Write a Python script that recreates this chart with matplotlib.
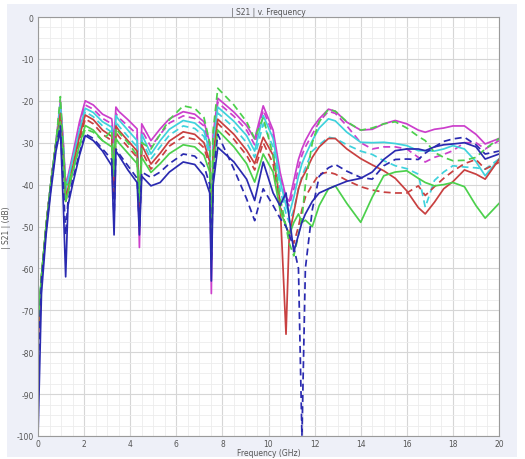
import matplotlib
matplotlib.use("Agg")
import matplotlib.pyplot as plt
from matplotlib.patches import Rectangle
from matplotlib.ticker import MultipleLocator

plt.rcParams['axes.unicode_minus'] = False

# frequency points (GHz) shared by all traces
freq = [0.0, 0.15, 0.35, 0.55, 0.78, 0.97, 1.1, 1.2, 1.3, 1.5, 1.8,
        2.05, 2.4, 2.8, 3.2, 3.3, 3.38, 3.5, 3.9, 4.3, 4.4,
        4.5, 4.9, 5.3, 5.7, 6.3, 6.8, 7.2, 7.45, 7.52, 7.6,
        7.8, 8.5, 9.05, 9.4, 9.77, 10.2, 10.5, 10.76, 10.9, 11.1,
        11.3, 11.45, 11.6, 11.9, 12.2, 12.6, 12.9, 13.4, 14.0, 14.5,
        15.0, 15.5, 16.0, 16.5, 16.8, 17.2, 17.6, 18.0, 18.5, 19.0,
        19.4, 20.0]

magenta_solid = [-76, -62, -50, -40, -30, -20, -30, -40, -38, -33, -25,
                 -20, -21, -23.2, -24.3, -30, -21.5, -22.5, -24.5, -26.7, -55,
                 -25.5, -29.5, -26.7, -24.3, -22.6, -23.2, -25, -30, -66, -28,
                 -19.4, -22.7, -25.9, -29.1, -21.2, -27, -37, -43, -44, -39,
                 -34, -31.5, -29.5, -26.5, -24.3, -22, -22.5, -25.1, -27, -26.8,
                 -25.5, -24.7, -25.5, -27, -27.5, -26.8, -26.5, -26, -26, -28,
                 -30.3, -29]
magenta_dash = [-77, -62, -50, -40, -30, -21, -31, -41, -39, -34, -26,
                -21, -22, -24.2, -25.5, -33, -23, -24, -26, -28, -50,
                -27, -31, -28, -25.3, -23.6, -24.2, -26, -31, -58, -29,
                -20.4, -23.7, -27, -30.5, -22.2, -28, -38, -44, -45, -41,
                -36, -33, -31, -28, -25, -22.5, -23, -26, -30, -31.5,
                -31, -31, -31.5, -33.5, -34.6, -33.5, -32.8, -31.9, -30, -30,
                -31.5, -29.5]
cyan_solid = [-74, -62, -50, -40, -30, -21, -31, -41, -39, -34, -27,
              -21.8, -22.8, -25, -26.3, -42, -23.5, -24.5, -27, -29.5, -48,
              -28, -32.7, -29.5, -26.8, -24.7, -25.3, -27.2, -32, -56, -30,
              -21.5, -24.9, -28.3, -32, -23.5, -29, -39, -45, -47, -43,
              -38, -35, -33, -29.5, -26.5, -24.3, -24.8, -27.5, -29.9, -30,
              -29.9, -30.2, -30.7, -31.9, -31.9, -32, -31.5, -30.7, -31.5, -34.5,
              -37.9, -33.9]
cyan_dash = [-75, -62, -50, -40, -30, -22, -32, -42, -40, -35, -28,
             -22.6, -23.8, -26, -27.5, -44, -25, -26, -28.5, -31, -47,
             -29.5, -33.9, -31, -28.2, -26, -26.6, -28.5, -33, -55, -31.5,
             -22.9, -26.4, -30, -33.5, -25.5, -31, -41, -47, -49, -46,
             -41, -38, -36, -32, -30.5, -28.7, -29, -30.5, -32, -32.8,
             -34.3, -35.5, -36.2, -37.5, -45.4, -39, -37, -35.5, -35.8, -36,
             -36.3, -33.9]
red_solid = [-78, -62, -50, -40, -30, -23, -33, -43, -41, -36, -28.5,
             -23.4, -24.5, -27, -28.5, -40, -26, -27, -29.5, -32, -45,
             -30.5, -35.1, -32.5, -29.6, -27.4, -28, -30, -34.5, -54, -33,
             -24.4, -28, -31.8, -35, -28.7, -33, -44, -75.7, -52, -46.6,
             -41, -38.5, -37, -33.5, -31, -29, -29, -31.5, -33.8, -35.3,
             -36.7, -38.5, -41.5, -45.5, -47, -44.2, -41, -39.3, -36.5, -37.5,
             -38.7, -34]
red_dash = [-77, -62, -50, -40, -30, -24, -34, -44, -42, -37, -29.5,
            -24.3, -25.5, -28, -29.5, -42, -27.5, -28.5, -31, -33.5, -46,
            -32, -36.3, -33.7, -30.8, -28.6, -29.2, -31.2, -35.5, -53, -34,
            -25.4, -29.2, -33, -36.5, -30, -35, -45, -50, -52, -54,
            -50, -46, -43, -40, -37.5, -37, -37.5, -39, -40.5, -41.3,
            -41.8, -42, -42, -40.3, -42.6, -40.5, -38.5, -36.8, -35, -34,
            -36.3, -34.7]
green_solid = [-73, -62, -50, -40, -30, -25, -35, -44, -42, -37, -30.5,
               -25.9, -27, -29.5, -31, -38, -29, -30, -32.5, -35, -44,
               -33.5, -37.1, -35, -32.6, -30.5, -31, -33, -37, -52, -35.5,
               -27, -31, -35, -39.4, -32.7, -37, -46, -50, -52, -49,
               -47, -49, -48.5, -50, -45, -41, -40.3, -44.5, -49, -43,
               -37.9, -37, -36.7, -38.5, -39.5, -40.3, -40, -39.5, -40.5, -45,
               -48, -44.5]
green_dash = [-74, -62, -50, -40, -30, -19, -32, -40, -40, -37, -31,
              -26.7, -27.5, -29.5, -27, -36, -26.5, -27.5, -30, -33, -44,
              -30, -31.5, -28, -24.5, -21.2, -21.8, -24, -30, -50, -27,
              -17, -21, -25, -29, -24, -33, -43, -50, -54, -57,
              -52, -48, -40, -30, -25, -22, -22.5, -25, -27, -26.5,
              -25.5, -25, -26.5, -28.5, -29.5, -32.3, -33.5, -34.3, -34.2, -33.5,
              -31.5, -29]
blue_dash = [-85, -63, -51, -41, -31, -26, -40, -52, -44, -39, -32.5,
             -27.9, -29, -31.5, -34, -48, -31.5, -32.5, -35.5, -38.5, -50,
             -37, -38.3, -37, -35, -32.7, -33.2, -35.5, -40, -58, -38,
             -28, -36.3, -43.4, -48.6, -41, -45, -48, -50, -52, -55,
             -60, -100, -60, -46, -38, -36, -35.2, -36.8, -38.3, -38.7,
             -35.5, -34, -33.9, -34, -32.5, -31, -29.7, -29.1, -28.7, -30.5,
             -32.7, -32]
blue_solid = [-100, -66, -52, -42, -32, -27, -45, -62, -45, -40, -33,
              -28.3, -29.5, -32, -35.5, -52, -32, -33, -36.5, -39.5, -52,
              -38, -40.3, -39.5, -37, -34.6, -35.2, -37.9, -42, -63, -40,
              -31.1, -34.6, -38.7, -43.8, -34.6, -42, -45, -42, -48, -56,
              -52, -49, -47, -44, -42, -41, -40.3, -39.2, -38.5, -37,
              -34, -31.9, -31.5, -31.5, -31.9, -31, -30.5, -30.3, -30, -31,
              -33.9, -32.7]

traces = [
    (magenta_solid, '#cc3fcc', '-'),
    (magenta_dash, '#cc3fcc', '--'),
    (cyan_solid, '#3fd2dc', '-'),
    (cyan_dash, '#3fd2dc', '--'),
    (red_solid, '#c84040', '-'),
    (red_dash, '#c84040', '--'),
    (green_solid, '#4cd04c', '-'),
    (green_dash, '#4cd04c', '--'),
    (blue_dash, '#2a2ab0', '--'),
    (blue_solid, '#2a2ab0', '-'),
]

fig = plt.figure(figsize=(5.25, 4.6), dpi=100, facecolor='white')
# light panel behind the plot
fig.patches.append(Rectangle((7 / 525, 2 / 460), 510 / 525, 453 / 460,
                             transform=fig.transFigure, facecolor='#eef0f8',
                             edgecolor='none', zorder=-1))
ax = fig.add_axes([38 / 525, 23 / 460, 461 / 525, 419 / 460])
ax.set_facecolor('white')

for vals, col, ls in traces:
    ax.plot(freq, vals, color=col, linestyle=ls, linewidth=1.25,
            dashes=(4, 2.5) if ls == '--' else (None, None))

ax.set_xlim(0, 20)
ax.set_ylim(-100, 0)
ax.xaxis.set_major_locator(MultipleLocator(2))
ax.xaxis.set_minor_locator(MultipleLocator(0.5))
ax.yaxis.set_major_locator(MultipleLocator(10))
ax.yaxis.set_minor_locator(MultipleLocator(2.5))
ax.grid(which='major', color='#d6d6d6', linewidth=0.8)
ax.grid(which='minor', color='#ececec', linewidth=0.6)
ax.set_axisbelow(True)
ax.tick_params(which='both', length=0, labelsize=5.5, labelcolor='#555555')
ax.tick_params(axis='x', pad=2)
ax.tick_params(axis='y', pad=3)
for s in ax.spines.values():
    s.set_color('#9a9a9a')
    s.set_linewidth(0.8)

ax.set_title('| S21 | v. Frequency', fontsize=5.5, color='#555555', pad=2)
ax.set_xlabel('Frequency (GHz)', fontsize=5.5, color='#555555', labelpad=0)
ax.set_ylabel('| S21 | (dB)', fontsize=5.5, color='#555555', labelpad=4)

fig.savefig('out.png', dpi=100, facecolor=fig.get_facecolor())
